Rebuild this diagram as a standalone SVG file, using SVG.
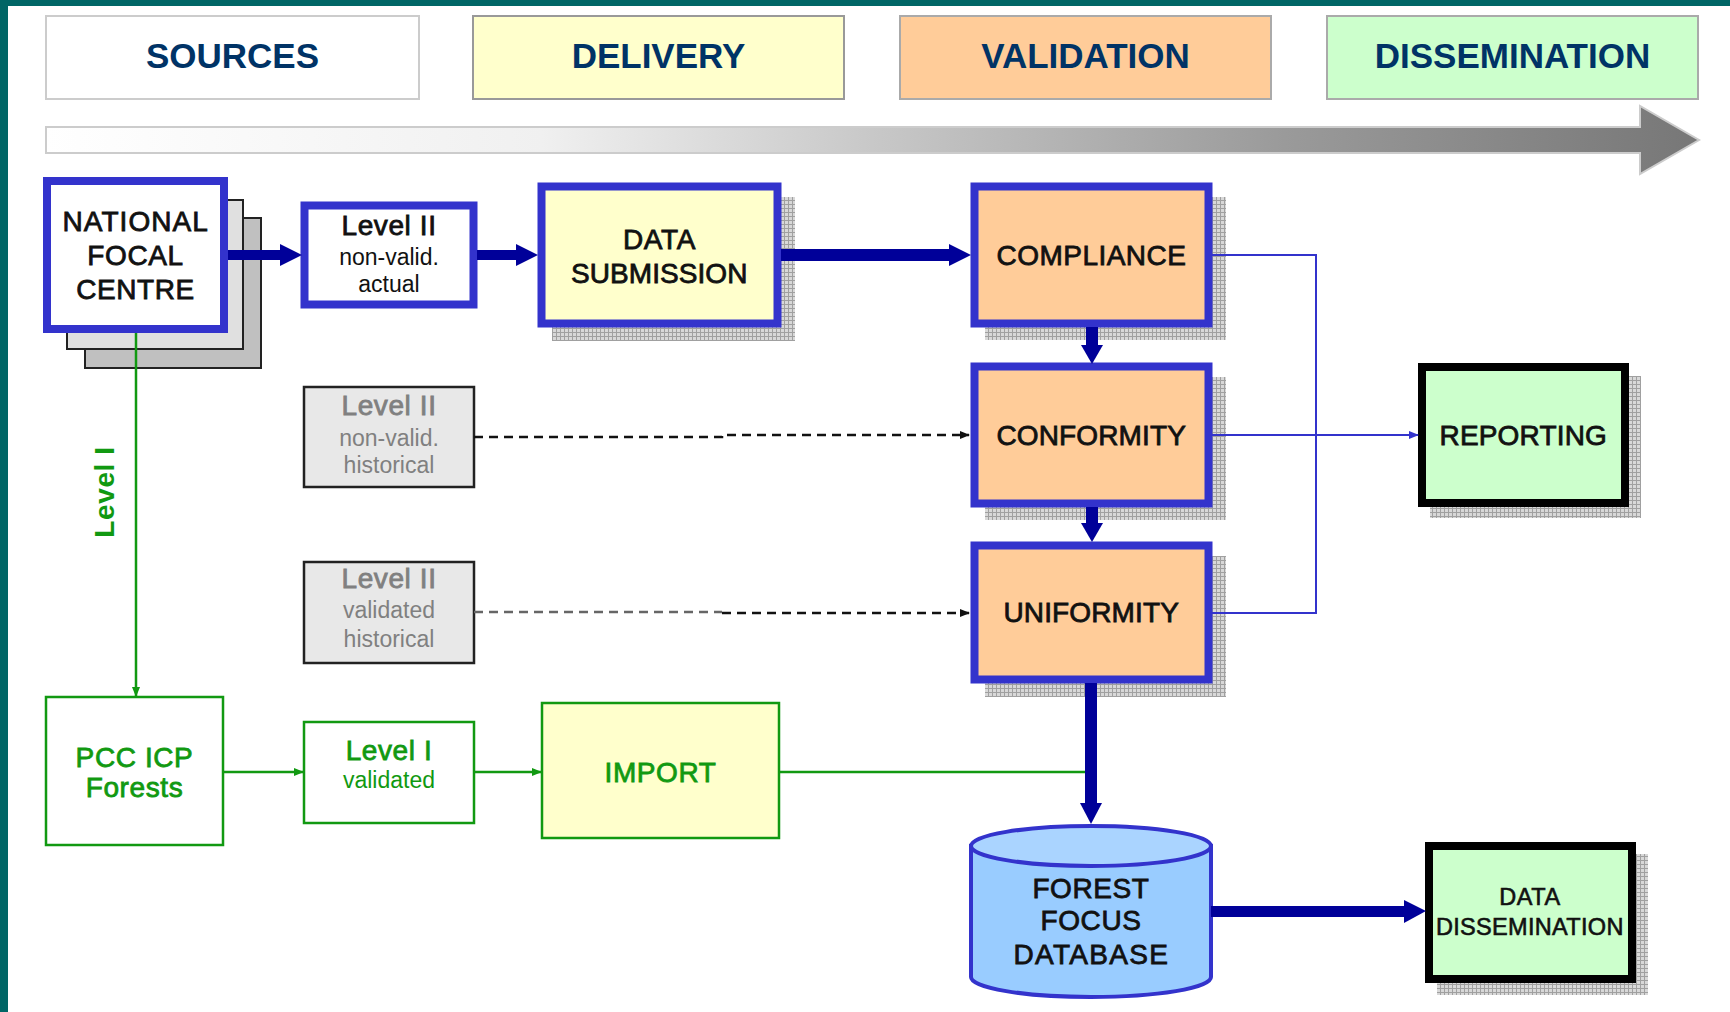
<svg xmlns="http://www.w3.org/2000/svg" width="1730" height="1012" viewBox="0 0 1730 1012">
<defs>
<style>
.hdr{font-family:"Liberation Sans",Arial,sans-serif;font-weight:bold;font-size:35px;fill:#003366;text-anchor:middle}
.lbl{font-family:"Liberation Sans",Arial,sans-serif;font-weight:normal;font-size:28px;fill:#111;stroke:#111;stroke-width:0.8px;letter-spacing:0.6px;text-anchor:middle}
.sub{font-family:"Liberation Sans",Arial,sans-serif;font-size:23px;fill:#111;text-anchor:middle}
.gray{fill:#808080;stroke:#808080}
.green{fill:#119911;stroke:#119911}
.sub.gray,.sub.green{stroke:none}
.bluebox{stroke:#3333cc;stroke-width:8}
.blackbox{stroke:#000;stroke-width:8}
.thin{fill:none;stroke:#3333cc;stroke-width:2}
.gline{fill:none;stroke:#119911;stroke-width:2.5}
.dash{fill:none;stroke:#111;stroke-width:2.5;stroke-dasharray:9 6}
.navy{fill:#000099}
</style>
<pattern id="grid" width="4" height="4" patternUnits="userSpaceOnUse">
<rect width="4" height="4" fill="#d8d8d8"/>
<path d="M0 0.5H4M0.5 0V4" stroke="#a0a0a0" stroke-width="1"/>
</pattern>
<linearGradient id="bar" x1="46" y1="0" x2="1698" y2="0" gradientUnits="userSpaceOnUse">
<stop offset="0" stop-color="#ffffff"/>
<stop offset="0.3" stop-color="#f0f0f0"/>
<stop offset="0.5" stop-color="#c8c8c8"/>
<stop offset="0.75" stop-color="#9a9a9a"/>
<stop offset="1" stop-color="#777777"/>
</linearGradient>
<marker id="ab" markerWidth="10" markerHeight="10" refX="9" refY="5" orient="auto" markerUnits="userSpaceOnUse">
<path d="M0,1 L10,5 L0,9 Z" fill="#3333cc"/>
</marker>
<marker id="ak" markerWidth="10" markerHeight="10" refX="9" refY="5" orient="auto" markerUnits="userSpaceOnUse">
<path d="M0,1 L10,5 L0,9 Z" fill="#111"/>
</marker>
<marker id="ag" markerWidth="10" markerHeight="10" refX="9" refY="5" orient="auto" markerUnits="userSpaceOnUse">
<path d="M0,1 L10,5 L0,9 Z" fill="#119911"/>
</marker>
</defs>
<rect width="1730" height="1012" fill="#ffffff"/>
<rect x="0" y="0" width="1730" height="6" fill="#006666"/>
<rect x="0" y="0" width="8" height="1012" fill="#006666"/>

<g id="headers">
<g id="h-sources"><rect x="46" y="16" width="373" height="83" fill="#ffffff" stroke="#cccccc" stroke-width="2"/><text class="hdr" x="232.5" y="68">SOURCES</text></g>
<g id="h-delivery"><rect x="473" y="16" width="371" height="83" fill="#ffffcc" stroke="#999999" stroke-width="2"/><text class="hdr" x="658.5" y="68">DELIVERY</text></g>
<g id="h-validation"><rect x="900" y="16" width="371" height="83" fill="#ffcc99" stroke="#aaaaaa" stroke-width="2"/><text class="hdr" x="1085.5" y="68">VALIDATION</text></g>
<g id="h-dissemination"><rect x="1327" y="16" width="371" height="83" fill="#ccffcc" stroke="#aaaaaa" stroke-width="2"/><text class="hdr" x="1512.5" y="68">DISSEMINATION</text></g>
<g id="timeline"><path d="M46,127 L1640,127 L1640,106 L1699,140 L1640,174 L1640,153 L46,153 Z" fill="url(#bar)" stroke="#cccccc" stroke-width="2"/></g>
</g>

<g id="nfc">
<rect x="85" y="218" width="176" height="150" fill="#c0c0c0" stroke="#222" stroke-width="2"/>
<rect x="67" y="200" width="176" height="149" fill="#e0e0e0" stroke="#222" stroke-width="2"/>
<rect class="bluebox" x="47" y="181" width="177" height="148" fill="#ffffff"/>
<text class="lbl" x="135.5" y="231" textLength="146" lengthAdjust="spacing">NATIONAL</text>
<text class="lbl" x="135.5" y="265">FOCAL</text>
<text class="lbl" x="135.5" y="299">CENTRE</text>
</g>

<g id="l2-actual">
<rect class="bluebox" x="304.5" y="205.5" width="169" height="99" stroke-width="7" fill="#ffffff"/>
<text class="lbl" x="389" y="235">Level II</text>
<text class="sub" x="389" y="265">non-valid.</text>
<text class="sub" x="389" y="292">actual</text>
</g>

<g id="data-submission">
<rect x="552" y="197" width="243" height="144" fill="url(#grid)"/>
<rect class="bluebox" x="541.5" y="186.5" width="236" height="137" stroke-width="7" fill="#ffffcc"/>
<text class="lbl" x="659.5" y="249">DATA</text>
<text class="lbl" x="659.5" y="283" textLength="177" lengthAdjust="spacing">SUBMISSION</text>
</g>

<g id="compliance">
<rect x="985" y="197" width="241" height="143" fill="url(#grid)"/>
<rect class="bluebox" x="974.5" y="186.5" width="234" height="137" stroke-width="7" fill="#ffcc99"/>
<text class="lbl" x="1091.5" y="265" textLength="190" lengthAdjust="spacing">COMPLIANCE</text>
</g>

<g id="conformity">
<rect x="985" y="377" width="241" height="143" fill="url(#grid)"/>
<rect class="bluebox" x="974.5" y="366.5" width="234" height="137" stroke-width="7" fill="#ffcc99"/>
<text class="lbl" x="1091.5" y="445" textLength="190" lengthAdjust="spacing">CONFORMITY</text>
</g>

<g id="uniformity">
<rect x="985" y="556" width="241" height="141" fill="url(#grid)"/>
<rect class="bluebox" x="974.5" y="545.5" width="234" height="134" stroke-width="7" fill="#ffcc99"/>
<text class="lbl" x="1091.5" y="622" textLength="176" lengthAdjust="spacing">UNIFORMITY</text>
</g>

<g id="reporting">
<rect x="1430" y="376" width="211" height="142" fill="url(#grid)"/>
<rect class="blackbox" x="1422" y="367" width="203" height="136" fill="#ccffcc"/>
<text class="lbl" x="1523.5" y="445" textLength="168" lengthAdjust="spacing">REPORTING</text>
</g>

<g id="l2-nonvalid-hist">
<rect x="304" y="387" width="170" height="100" fill="#e8e8e8" stroke="#222" stroke-width="2.5"/>
<text class="lbl gray" x="389" y="415">Level II</text>
<text class="sub gray" x="389" y="446">non-valid.</text>
<text class="sub gray" x="389" y="473">historical</text>
</g>

<g id="l2-valid-hist">
<rect x="304" y="562" width="170" height="101" fill="#e8e8e8" stroke="#222" stroke-width="2.5"/>
<text class="lbl gray" x="389" y="588">Level II</text>
<text class="sub gray" x="389" y="618">validated</text>
<text class="sub gray" x="389" y="647">historical</text>
</g>

<g id="pcc">
<rect x="46" y="697" width="177" height="148" fill="#ffffff" stroke="#119911" stroke-width="2.5"/>
<text class="lbl green" x="134.5" y="767">PCC ICP</text>
<text class="lbl green" x="134.5" y="797">Forests</text>
</g>

<g id="l1-valid">
<rect x="304" y="722" width="170" height="101" fill="#ffffff" stroke="#119911" stroke-width="2.5"/>
<text class="lbl green" x="389" y="760">Level I</text>
<text class="sub green" x="389" y="788">validated</text>
</g>

<g id="import">
<rect x="542" y="703" width="237" height="135" fill="#ffffcc" stroke="#119911" stroke-width="2.5"/>
<text class="lbl green" x="660.5" y="782">IMPORT</text>
</g>

<g id="database">
<path d="M971,846 L971,977 A120,20 0 0 0 1211,977 L1211,846 Z" fill="#99ccff" stroke="#3333cc" stroke-width="4"/>
<ellipse cx="1091" cy="846" rx="120" ry="20" fill="#aad4ff" stroke="#3333cc" stroke-width="4"/>
<text class="lbl" x="1091" y="898">FOREST</text>
<text class="lbl" x="1091" y="930">FOCUS</text>
<text class="lbl" x="1091" y="964" textLength="155" lengthAdjust="spacing">DATABASE</text>
</g>

<g id="data-dissemination">
<rect x="1437" y="854" width="211" height="141" fill="url(#grid)"/>
<rect class="blackbox" x="1429" y="846" width="203" height="133" fill="#ccffcc"/>
<text class="lbl" x="1530" y="905" style="font-size:23.5px;stroke-width:0.6px">DATA</text>
<text class="lbl" x="1530" y="935" style="font-size:23.5px;stroke-width:0.6px" textLength="188" lengthAdjust="spacing">DISSEMINATION</text>
</g>

<g id="connectors">
<rect class="navy" x="228" y="250" width="53" height="10"/>
<path class="navy" d="M280,244 L280,266 L302,255 Z"/>
<rect class="navy" x="477" y="250" width="40" height="10"/>
<path class="navy" d="M516,244 L516,266 L538,255 Z"/>
<rect class="navy" x="781" y="249" width="169" height="12"/>
<path class="navy" d="M949,244 L949,266 L971,255 Z"/>
<rect class="navy" x="1086" y="327" width="12" height="19"/>
<path class="navy" d="M1081,345 L1103,345 L1092,364 Z"/>
<rect class="navy" x="1086" y="507" width="12" height="17"/>
<path class="navy" d="M1081,523 L1103,523 L1092,542 Z"/>
<rect class="navy" x="1085" y="683" width="12" height="121"/>
<path class="navy" d="M1080,803 L1102,803 L1091,824 Z"/>
<rect class="navy" x="1211" y="906" width="194" height="11"/>
<path class="navy" d="M1404,900 L1404,923 L1426,911 Z"/>
<path class="thin" d="M1212,255 L1316,255 L1316,613 L1212,613"/>
<path class="thin" d="M1212,435 L1418,435" marker-end="url(#ab)"/>
<path class="dash" d="M474,437 L722,437 L722,435 L969,435" marker-end="url(#ak)"/>
<path class="dash" d="M474,612 L722,612" style="stroke:#666"/>
<path class="dash" d="M722,613 L969,613" marker-end="url(#ak)"/>
<path class="gline" d="M136,333 L136,696" marker-end="url(#ag)"/>
<path class="gline" d="M223,772 L303,772" marker-end="url(#ag)"/>
<path class="gline" d="M474,772 L541,772" marker-end="url(#ag)"/>
<path class="gline" d="M779,772 L1085,772"/>
<text class="lbl green" transform="translate(114,492) rotate(-90)" x="0" y="0" style="font-weight:bold;stroke:none">Level I</text>
</g>
</svg>
